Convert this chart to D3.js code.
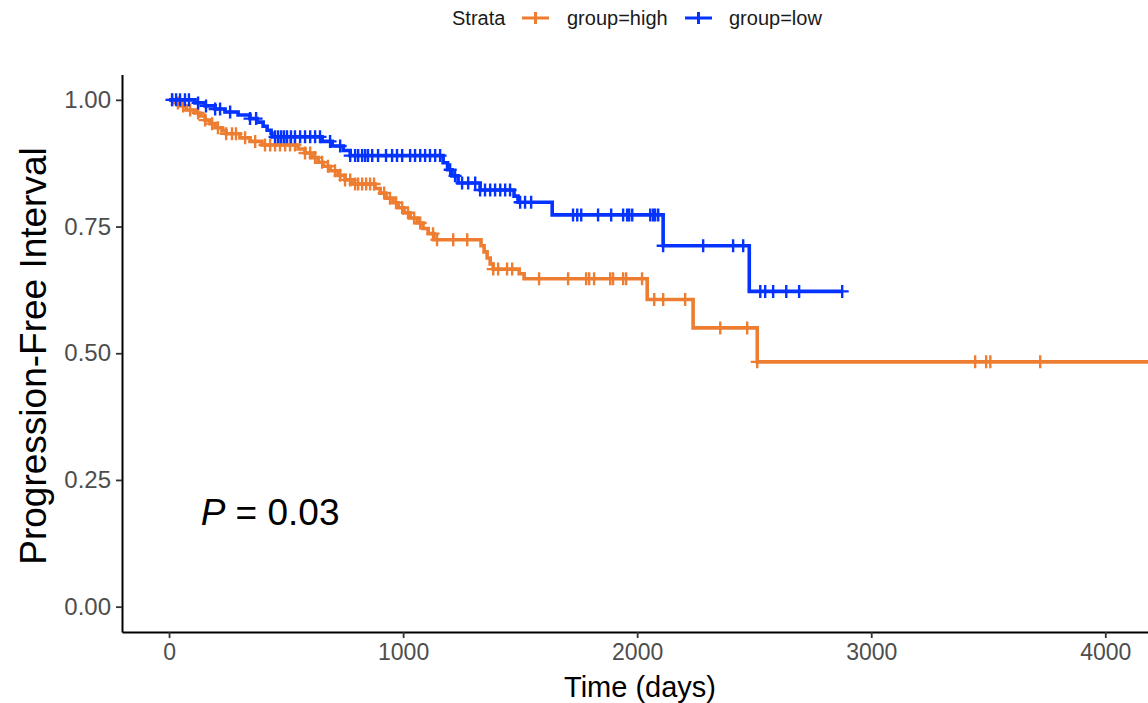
<!DOCTYPE html>
<html>
<head>
<meta charset="utf-8">
<script src="https://cdn.jsdelivr.net/npm/d3@7"></script>
<style>
  body { margin: 0; background: #fff; }
  text { font-family: "Liberation Sans", Arial, sans-serif; }
</style>
</head>
<body>
<svg></svg>
<script>
// group=low: event times (days) and survival after each drop
const lowTimes = [111, 154, 197, 239, 295, 346, 376, 402, 419, 436, 440, 654, 697, 744, 774,
    1171, 1190, 1209, 1235, 1329, 1474, 1491, 1637, 2111, 2479];
const lowSurv = [0.994, 0.988, 0.982, 0.976, 0.970, 0.963, 0.956, 0.948, 0.940, 0.934, 0.927, 0.918, 0.909, 0.900, 0.890,
    0.876, 0.862, 0.850, 0.836, 0.822, 0.810, 0.798, 0.773, 0.712, 0.622];
const lowCensor = [13, 30, 47, 68, 85, 124, 158, 197, 218, 261, 346, 372, 453, 466, 479, 491, 504, 521, 538, 560, 581, 603, 624, 645,
    688, 731, 774, 795, 808, 825, 838, 850, 868, 893, 927, 953, 974, 996, 1030, 1051, 1073, 1094, 1115, 1137, 1158,
    1201, 1222, 1252, 1278, 1308, 1329, 1350, 1372, 1393, 1415, 1436, 1457,
    1500, 1521, 1547, 1726, 1744, 1761, 1833, 1889, 1940, 1957, 1966, 1979, 2056, 2068, 2077, 2090,
    2111, 2282, 2410, 2453, 2526, 2547, 2581, 2637, 2692, 2876];
const lowEnd = 2876;

// group=high
const highTimes = [30, 51, 73, 111, 132, 154, 175, 197, 226, 244, 303, 346, 397, 551, 581, 611, 637, 658, 688, 722, 752, 782,
    880, 902, 927, 957, 979, 1004, 1030, 1060, 1085, 1107, 1132, 1333, 1346, 1359, 1372, 1385, 1496, 1517, 2043, 2239, 2513];
const highSurv = [0.994, 0.988, 0.980, 0.974, 0.968, 0.960, 0.953, 0.945, 0.939, 0.933, 0.925, 0.918, 0.911, 0.903, 0.895, 0.886,
    0.877, 0.869, 0.860, 0.851, 0.842, 0.834, 0.825, 0.816, 0.806, 0.797, 0.787, 0.777, 0.767, 0.757, 0.746, 0.736, 0.724,
    0.712, 0.700, 0.688, 0.676, 0.666, 0.657, 0.647, 0.606, 0.550, 0.483];
const highCensor = [13, 38, 60, 90, 124, 154, 184, 209, 244, 269, 286, 325, 368, 410, 432, 453, 474, 496, 517, 538,
    581, 603, 624, 654, 679, 709, 731, 752, 774, 795, 808, 825, 842, 859, 876,
    919, 944, 970, 996, 1021, 1047, 1073, 1128, 1145, 1214, 1274,
    1385, 1406, 1444, 1466, 1581, 1705, 1782, 1795, 1816, 1885, 1897, 1940, 1953, 2021,
    2073, 2111, 2205, 2355, 2470, 2513, 3444, 3491, 3509, 3722];
const highEnd = 4300;

const xTicks = [0, 1000, 2000, 3000, 4000];
const yTicks = [0, 0.25, 0.5, 0.75, 1];
const pText = "0.03";

const width = 1148;
const height = 703;
const colHigh = "#ED7D31";
const colLow = "#0433FF";

let svg = d3.select("svg")
    .attr("width", width)
    .attr("height", height);

// шкалы
let x = d3.scaleLinear().domain([-201, 4221]).range([122, 1157]);
let y = d3.scaleLinear().domain([-0.05, 1.05]).range([632, 74.5]);

svg.append("clipPath").attr("id", "panel")
    .append("rect")
    .attr("x", 122).attr("y", 60)
    .attr("width", 1040).attr("height", 575);

// оси
let axX = svg.append("g")
    .attr("transform", "translate(0,632)")
    .call(d3.axisBottom(x).tickValues(xTicks).tickSize(6).tickSizeOuter(0).tickPadding(6).tickFormat(d3.format("d")));
let axY = svg.append("g")
    .attr("transform", "translate(122,0)")
    .call(d3.axisLeft(y).tickValues(yTicks).tickSize(6).tickSizeOuter(0).tickPadding(5).tickFormat(d3.format(".2f")));

[axX, axY].forEach(a => {
    a.select(".domain").attr("stroke", "#000").attr("stroke-width", 2);
    a.selectAll(".tick line").attr("stroke", "#333").attr("stroke-width", 1.8);
    a.selectAll(".tick text").attr("fill", "#4D4D4D").style("font-family", '"Liberation Sans", Arial, sans-serif');
});
axX.selectAll(".tick text").style("font-size", "23px");
axY.selectAll(".tick text").style("font-size", "24px");

// подписи осей
svg.append("text")
    .attr("x", 640).attr("y", 697)
    .attr("text-anchor", "middle")
    .style("font-size", "29px")
    .text("Time (days)");

svg.append("text")
    .attr("transform", "translate(46,356) rotate(-90)")
    .attr("text-anchor", "middle")
    .style("font-size", "37px")
    .text("Progression-Free Interval");

// кривые
function stepFn(times, surv) {
    return t => {
        let s = 1;
        for (let i = 0; i < times.length; i++) if (times[i] <= t) s = surv[i];
        return s;
    };
}

function drawCurve(times, surv, censor, tEnd, color) {
    let pts = [[0, 1]].concat(times.map((t, i) => [t, surv[i]]));
    pts.push([tEnd, surv[surv.length - 1]]);
    let g = svg.append("g").attr("clip-path", "url(#panel)");
    g.append("path")
        .datum(pts)
        .attr("fill", "none")
        .attr("stroke", color)
        .attr("stroke-width", 3.6)
        .attr("d", d3.line().x(d => x(d[0])).y(d => y(d[1])).curve(d3.curveStepAfter));

    let f = stepFn(times, surv);
    let r = 6.5;
    g.selectAll(".cens")
        .data(censor)
        .enter()
        .append("path")
        .attr("d", d => {
            let cx = x(d), cy = y(f(d));
            return `M${cx - r},${cy}H${cx + r}M${cx},${cy - r}V${cy + r}`;
        })
        .attr("stroke", color)
        .attr("stroke-width", 2.4);
}

drawCurve(highTimes, highSurv, highCensor, highEnd, colHigh);
drawCurve(lowTimes, lowSurv, lowCensor, lowEnd, colLow);

// p-value
let pt = svg.append("text")
    .attr("x", x(135)).attr("y", y(0.162))
    .style("font-size", "37px");
pt.append("tspan").style("font-style", "italic").text("P");
pt.append("tspan").text(" = " + pText);

// легенда
let leg = svg.append("g").style("font-size", "20px");
leg.append("text").attr("x", 452).attr("y", 25).attr("fill", "#1a1a1a").text("Strata");
[[522, 567, colHigh, "group=high"], [685, 729, colLow, "group=low"]].forEach(([kx, tx, c, lab]) => {
    leg.append("path")
        .attr("d", `M${kx},18H${kx + 27}M${kx + 13.5},12V24`)
        .attr("stroke", c).attr("stroke-width", 3);
    leg.append("text").attr("x", tx).attr("y", 25).attr("fill", "#1a1a1a").text(lab);
});
</script>
</body>
</html>
